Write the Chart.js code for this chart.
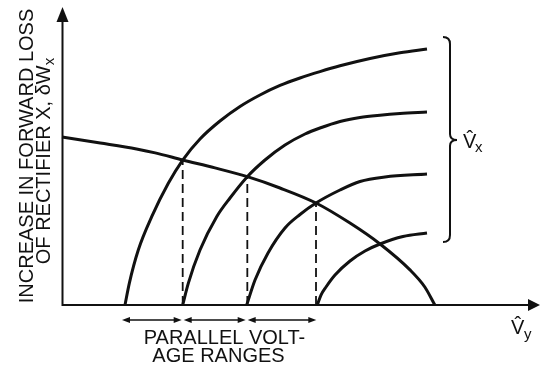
<!DOCTYPE html>
<html>
<head>
<meta charset="utf-8">
<script src="https://cdn.jsdelivr.net/npm/chart.js@4/dist/chart.umd.min.js"></script>
<style>
  html, body { margin: 0; padding: 0; background: #fff; }
  canvas { display: block; }
</style>
</head>
<body>
<canvas id="lossChart" width="541" height="366"></canvas>
<script>
// forward-loss curves of rectifier X, one per peak voltage (largest first)
const riseX1 = [13.18, 14.08, 15.96, 18.77, 22.24, 25.25, 28.87, 33.05, 37.24, 41.42, 45.61, 49.79, 53.97, 58.16, 64.44, 70.71, 76.36];
const riseY1 = [0, 7.23, 18.33, 29.43, 40.57, 48.33, 55.33, 61.33, 66.17, 70.0, 73.17, 75.67, 77.8, 79.73, 82.17, 84.07, 85.33];
const riseX2 = [25.25, 26.42, 28.87, 32.36, 35.15, 38.77, 42.47, 46.65, 50.84, 53.97, 58.16, 62.34, 66.53, 70.71, 76.36];
const riseY2 = [0, 7.23, 18.33, 29.43, 35.67, 42.77, 48.33, 53.33, 57.0, 59.0, 61.17, 62.5, 63.27, 63.83, 64.33];
const riseX3 = [38.64, 40.38, 43.10, 46.65, 49.79, 53.14, 58.16, 62.34, 67.57, 76.36];
const riseY3 = [0, 8.33, 17.33, 25.67, 30.17, 34.0, 38.33, 41.17, 42.67, 43.67];
const riseX4 = [53.41, 54.18, 55.23, 57.11, 60.25, 63.39, 66.53, 71.34, 76.36];
const riseY4 = [0, 3.33, 6.0, 10.0, 14.67, 18.0, 20.33, 22.83, 24.0];

// falling curve that cuts across them
const fallX = [0, 8.0, 15.6, 19.5, 25.25, 32.0, 38.77, 45.6, 53.14, 60.25, 66.53, 72.8, 75.9, 78.0];
const fallY = [56.0, 54.0, 52.0, 50.7, 48.33, 45.7, 42.77, 39.0, 34.0, 27.3, 20.33, 11.7, 6.0, 0];

// crossing points, dropped to the axis
const dropX = [25.25, 38.77, 53.14];
const dropY = [48.33, 42.77, 34.0];

const ink = "#111";
const face = "'Liberation Sans', Arial, sans-serif";

function toPoints(xs, ys) {
    return xs.map((x, i) => ({ x: x, y: ys[i] }));
}

const riseSets = [[riseX1, riseY1], [riseX2, riseY2], [riseX3, riseY3], [riseX4, riseY4]];

const datasets = riseSets.map(([xs, ys]) => ({
    data: toPoints(xs, ys),
    showLine: true, borderColor: ink, borderWidth: 3, pointRadius: 0,
    cubicInterpolationMode: "monotone", clip: false
}));
datasets.push({
    data: toPoints(fallX, fallY),
    showLine: true, borderColor: ink, borderWidth: 3, pointRadius: 0,
    cubicInterpolationMode: "monotone", clip: false
});
dropX.forEach((x, i) => datasets.push({
    data: [{ x: x, y: 0 }, { x: x, y: dropY[i] }],
    showLine: true, borderColor: ink, borderWidth: 1.8, borderDash: [9, 5],
    pointRadius: 0, tension: 0, clip: false
}));

function arrowHead(ctx, tx, ty, dx, dy, len, half) {
    const bx = tx - dx * len, by = ty - dy * len;
    ctx.beginPath();
    ctx.moveTo(tx, ty);
    ctx.lineTo(bx - dy * half, by + dx * half);
    ctx.lineTo(bx + dy * half, by - dx * half);
    ctx.closePath();
    ctx.fill();
}

// axes, brace, range arrows and all the lettering
const sketch = {
    id: "sketch",
    afterDatasetsDraw(chart) {
        const { ctx, chartArea: a, scales: { x } } = chart;
        ctx.save();
        ctx.strokeStyle = ink;
        ctx.fillStyle = ink;
        ctx.setLineDash([]);

        // axes with arrows
        ctx.lineWidth = 2;
        ctx.beginPath();
        ctx.moveTo(a.left + 0.5, 18);
        ctx.lineTo(a.left + 0.5, a.bottom);
        ctx.lineTo(531, a.bottom);
        ctx.stroke();
        arrowHead(ctx, a.left + 0.5, 7, 0, -1, 15, 6);
        arrowHead(ctx, 540, a.bottom, 1, 0, 12, 6);

        // brace grouping the four curve ends
        ctx.lineWidth = 2;
        ctx.beginPath();
        ctx.moveTo(443, 37);
        ctx.quadraticCurveTo(450, 37, 450, 44);
        ctx.lineTo(450, 134);
        ctx.quadraticCurveTo(450, 140, 457, 140);
        ctx.quadraticCurveTo(450, 140, 450, 146);
        ctx.lineTo(450, 235);
        ctx.quadraticCurveTo(450, 242, 443, 242);
        ctx.stroke();

        // double arrows between the curve starts
        const starts = riseSets.map(([xs]) => x.getPixelForValue(xs[0]));
        const ay = a.bottom + 15;
        ctx.lineWidth = 1.5;
        for (let i = 0; i < starts.length - 1; i++) {
            const x1 = starts[i] - (i === 0 ? 3 : -1), x2 = starts[i + 1] - 1;
            ctx.beginPath();
            ctx.moveTo(x1 + 4, ay);
            ctx.lineTo(x2 - 4, ay);
            ctx.stroke();
            arrowHead(ctx, x1, ay, -1, 0, 8, 3);
            arrowHead(ctx, x2, ay, 1, 0, 8, 3);
        }

        ctx.font = "20px " + face;
        ctx.textAlign = "center";
        ctx.textBaseline = "alphabetic";
        ctx.fillText("PARALLEL VOLT-", 224.5, 344);
        ctx.fillText("AGE RANGES", 218.5, 362);

        // peak voltage symbols
        ctx.textAlign = "left";
        ctx.fillText("V\u0302", 463, 148);
        ctx.font = "15px " + face;
        ctx.fillText("x", 475, 152);
        ctx.font = "20px " + face;
        ctx.fillText("V\u0302", 511, 334);
        ctx.font = "15px " + face;
        ctx.fillText("y", 524, 339);

        // rotated y-axis title
        ctx.font = "20px " + face;
        ctx.save();
        ctx.translate(33, 156);
        ctx.rotate(-Math.PI / 2);
        ctx.textAlign = "center";
        ctx.fillText("INCREASE IN FORWARD LOSS", 0, 0);
        ctx.restore();

        ctx.save();
        ctx.translate(50, 161);
        ctx.rotate(-Math.PI / 2);
        const main = "OF RECTIFIER X, \u03b4W";
        const w1 = ctx.measureText(main).width;
        ctx.font = "15px " + face;
        const w2 = ctx.measureText("x").width;
        const sx = -(w1 + w2) / 2;
        ctx.fillText("x", sx + w1, 4);
        ctx.font = "20px " + face;
        ctx.textAlign = "left";
        ctx.fillText(main, sx, 0);
        ctx.restore();

        ctx.restore();
    }
};

new Chart(document.getElementById("lossChart"), {
    type: "scatter",
    data: { datasets: datasets },
    options: {
        responsive: false,
        animation: false,
        layout: { padding: { left: 62, right: 1, top: 5, bottom: 61 } },
        plugins: { legend: { display: false }, tooltip: { enabled: false } },
        scales: {
            x: { type: "linear", min: 0, max: 100, display: false },
            y: { type: "linear", min: 0, max: 100, display: false }
        }
    },
    plugins: [sketch]
});
</script>
</body>
</html>
